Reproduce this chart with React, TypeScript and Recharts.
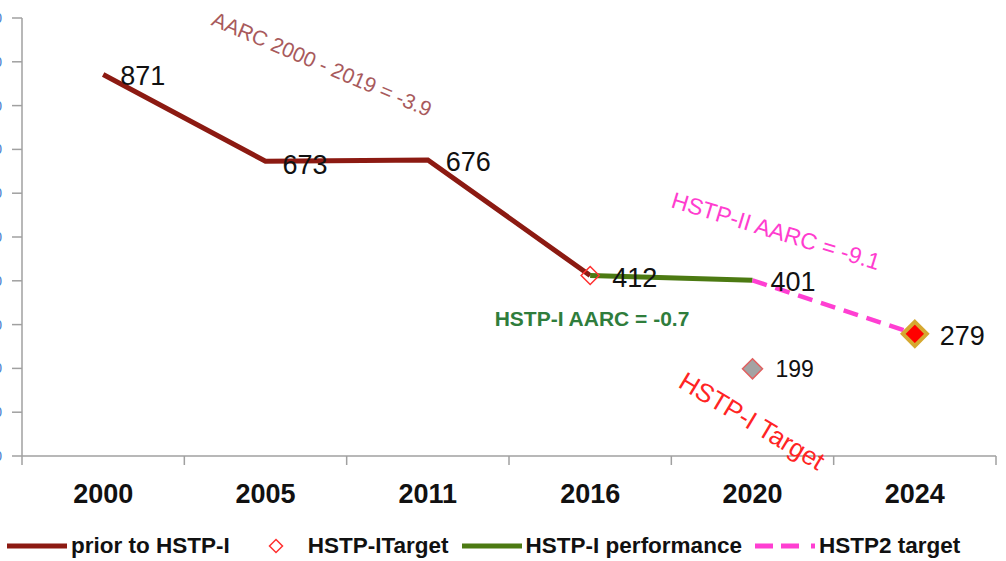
import React from "react"
import {
  ComposedChart,
  Line,
  XAxis,
  YAxis,
  Legend,
} from "recharts"

const YEARS = ["2000", "2005", "2011", "2016", "2020", "2024"]
const PRIOR = [871, 673, 676, 412, null, null]
const PERFORMANCE = [null, null, null, 412, 401, null]
const HSTP2_TARGET = [null, null, null, null, 401, 279]
const HSTP1_TARGET = [null, null, null, 412, 199, null]
const Y_TICKS = [0, 100, 200, 300, 400, 500, 600, 700, 800, 900, 1000]

const data = YEARS.map((year, i) => ({
  year,
  prior: PRIOR[i],
  perf: PERFORMANCE[i],
  target2: HSTP2_TARGET[i],
  target1: HSTP1_TARGET[i],
}))

const FONT = "'Liberation Sans', Arial, sans-serif"
const W = 1006
const H = 561
const MARGIN = { top: 18, right: 10, bottom: 75, left: 0 }
const BAND = (W - 22 - MARGIN.right) / YEARS.length

const BROWN = "#8C1A12"
const GREEN = "#4C7A12"
const PINK = "#FF3FD2"

// which points get a value label, and where it sits relative to the point
type LabelCfg = Record<number, { dx: number; dy: number; size?: number }>

const makeLabel = (cfg: LabelCfg) => (props: any) => {
  const { x, y, value, index } = props
  const c = cfg[index]
  if (!c || value == null) return <g key={`l-${index}`} />
  return (
    <text
      key={`l-${index}`}
      x={x + c.dx}
      y={y + c.dy}
      fontSize={c.size ?? 27}
      fill="#111"
      dominantBaseline="central"
      fontFamily={FONT}
    >
      {value}
    </text>
  )
}

const diamond = (cx: number, cy: number, r: number) =>
  `M${cx},${cy - r} L${cx + r},${cy} L${cx},${cy + r} L${cx - r},${cy} Z`

const target1Dot = (props: any) => {
  const { cx, cy, index, value } = props
  if (value == null || cx == null) return <g key={`t1-${index}`} />
  if (index === 3)
    return (
      <path key={`t1-${index}`} d={diamond(cx, cy, 9)} fill="none" stroke="#FF3030" strokeWidth={1.5} />
    )
  return (
    <path key={`t1-${index}`} d={diamond(cx, cy, 10)} fill="#A3A3A3" stroke="#E06060" strokeWidth={1.5} />
  )
}

const target2Dot = (props: any) => {
  const { cx, cy, index } = props
  if (index !== 5 || cx == null) return <g key={`t2-${index}`} />
  return (
    <path key={`t2-${index}`} d={diamond(cx, cy, 12)} fill="#FF0000" stroke="#D6A830" strokeWidth={4} />
  )
}

const XTick = (props: any) => {
  const { x, y, payload, index } = props
  return (
    <g>
      <line x1={x - BAND / 2} y1={y} x2={x - BAND / 2} y2={y + 9} stroke="#A0A0A0" strokeWidth={1.5} />
      {index === YEARS.length - 1 && (
        <line x1={x + BAND / 2} y1={y} x2={x + BAND / 2} y2={y + 9} stroke="#A0A0A0" strokeWidth={1.5} />
      )}
      <text
        x={x}
        y={y + 38}
        textAnchor="middle"
        dominantBaseline="central"
        fontSize={27}
        fontWeight="bold"
        fill="#111"
        fontFamily={FONT}
      >
        {payload.value}
      </text>
    </g>
  )
}

const LEGEND_ITEMS = [
  { label: "prior to HSTP-I", kind: "line", color: BROWN },
  { label: "HSTP-ITarget", kind: "diamond", color: "#FF3030" },
  { label: "HSTP-I performance", kind: "line", color: GREEN },
  { label: "HSTP2 target", kind: "dash", color: PINK },
]

const LegendContent = () => (
  <div
    style={{
      display: "flex",
      alignItems: "center",
      fontFamily: FONT,
      fontWeight: "bold",
      fontSize: 22.5,
      color: "#111",
      whiteSpace: "nowrap",
    }}
  >
    {LEGEND_ITEMS.map((it, i) => (
      <div key={it.label} style={{ display: "flex", alignItems: "center", marginLeft: [6, 38, 12, 12][i] }}>
        {it.kind === "diamond" ? (
          <svg width={16} height={16} style={{ marginRight: 24 }}>
            <path d={diamond(8, 8, 6.5)} fill="none" stroke={it.color} strokeWidth={1.5} />
          </svg>
        ) : (
          <svg width={62} height={10} style={{ marginRight: 3 }}>
            <line
              x1={1}
              y1={5}
              x2={61}
              y2={5}
              stroke={it.color}
              strokeWidth={5}
              strokeDasharray={it.kind === "dash" ? "18 8 18 12 4 20" : undefined}
            />
          </svg>
        )}
        <span>{it.label}</span>
      </div>
    ))}
  </div>
)

const ANNOTATIONS = [
  { text: "AARC 2000 - 2019 = -3.9", x: 322, y: 64, angle: 23, size: 21, color: "#A85A5C", bold: false },
  { text: "HSTP-II AARC = -9.1", x: 776, y: 231, angle: 17, size: 23, color: "#FF3DCF", bold: false },
  { text: "HSTP-I AARC = -0.7", x: 592, y: 318, angle: 0, size: 21, color: "#2F7D3C", bold: true },
  { text: "HSTP-I Target", x: 752, y: 421, angle: 31, size: 26, color: "#FF2424", bold: false },
]

export default function App() {
  return (
    <div style={{ position: "absolute", top: 0, left: 0, width: W, height: H, background: "#fff" }}>
      <ComposedChart width={W} height={H} data={data} margin={MARGIN} style={{ fontFamily: FONT }}>
        <XAxis
          dataKey="year"
          scale="band"
          height={30}
          tickLine={false}
          tickSize={0}
          tickMargin={0}
          axisLine={{ stroke: "#A0A0A0", strokeWidth: 1.5 }}
          tick={<XTick />}
          interval={0}
        />
        <YAxis
          width={22}
          domain={[0, 1000]}
          ticks={Y_TICKS}
          tickSize={10}
          tickMargin={10}
          axisLine={{ stroke: "#A0A0A0", strokeWidth: 1.5 }}
          tickLine={{ stroke: "#A0A0A0", strokeWidth: 1.5 }}
          tick={{ fill: "#4A7FD0", fontSize: 14 }}
        />
        <Legend
          layout="horizontal"
          verticalAlign="middle"
          align="center"
          content={<LegendContent />}
          wrapperStyle={{ position: "absolute", top: 533, left: 0, width: W }}
        />
        <Line
          dataKey="prior"
          type="linear"
          stroke={BROWN}
          strokeWidth={5}
          dot={false}
          label={makeLabel({ 0: { dx: 17, dy: 1 }, 1: { dx: 17, dy: 4 }, 2: { dx: 18, dy: 2 } })}
          isAnimationActive={false}
        />
        <Line
          dataKey="perf"
          type="linear"
          stroke={GREEN}
          strokeWidth={5}
          dot={false}
          label={makeLabel({ 3: { dx: 22, dy: 2 }, 4: { dx: 18, dy: 2 } })}
          isAnimationActive={false}
        />
        <Line
          dataKey="target2"
          type="linear"
          stroke={PINK}
          strokeWidth={4.5}
          strokeDasharray="15 9"
          dot={target2Dot}
          activeDot={false}
          label={makeLabel({ 5: { dx: 25, dy: 2 } })}
          isAnimationActive={false}
        />
        <Line
          dataKey="target1"
          type="linear"
          stroke="none"
          strokeWidth={0}
          dot={target1Dot}
          activeDot={false}
          label={makeLabel({ 4: { dx: 23, dy: 0, size: 23 } })}
          isAnimationActive={false}
        />
      </ComposedChart>
      <svg width={W} height={H} style={{ position: "absolute", top: 0, left: 0, pointerEvents: "none" }}>
        {ANNOTATIONS.map((a) => (
          <text
            key={a.text}
            x={a.x}
            y={a.y}
            textAnchor="middle"
            dominantBaseline="central"
            fontSize={a.size}
            fontWeight={a.bold ? "bold" : "normal"}
            fill={a.color}
            fontFamily={FONT}
            transform={`rotate(${a.angle} ${a.x} ${a.y})`}
          >
            {a.text}
          </text>
        ))}
      </svg>
    </div>
  )
}
